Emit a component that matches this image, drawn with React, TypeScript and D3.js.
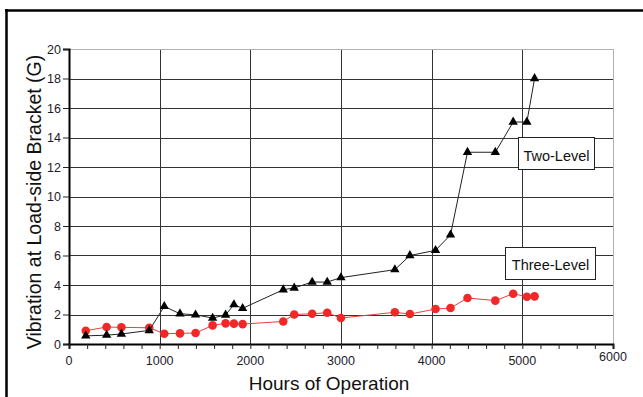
import React, { useEffect, useRef } from 'react';
import * as d3 from 'd3';

// hours of operation at each measurement
const hours = [185, 415, 578, 885, 1051, 1224, 1396, 1584, 1727, 1819, 1915, 2363, 2484, 2682, 2848, 2999,
    3594, 3760, 4043, 4208, 4395, 4702, 4899, 5050, 5135];

const twoLevel = [0.55, 0.6, 0.68, 0.92, 2.55, 2.05, 1.98, 1.76, 1.97, 2.67, 2.42, 3.68, 3.8, 4.2, 4.2, 4.5,
    5.04, 6.0, 6.35, 7.4, 13.0, 13.0, 15.05, 15.05, 18.0];

const threeLevel = [0.9, 1.15, 1.13, 1.1, 0.7, 0.72, 0.75, 1.26, 1.4, 1.38, 1.35, 1.53, 2.0, 2.05, 2.12, 1.76,
    2.15, 2.03, 2.37, 2.44, 3.12, 2.94, 3.41, 3.2, 3.23];

const xTicks = [0, 1000, 2000, 3000, 4000, 5000, 6000];
const yTicks = [0, 2, 4, 6, 8, 10, 12, 14, 16, 18, 20];

const WIDTH = 643;
const HEIGHT = 397;
const FONT = 'Arial, "Liberation Sans", sans-serif';

const App: React.FC = () => {
    const svgRef = useRef<SVGSVGElement | null>(null);

    useEffect(() => {
        document.body.style.margin = '0';
        if (!svgRef.current) return;

        const svg = d3.select(svgRef.current);
        svg.selectAll('*').remove();

        const margin = { top: 49, left: 69, right: 30, bottom: 53 };

        const x = d3.scaleLinear()
            .domain([0, 6000])
            .range([margin.left, WIDTH - margin.right]);

        const y = d3.scaleLinear()
            .domain([0, 20])
            .range([HEIGHT - margin.bottom, margin.top]);

        // outer frame (only top and left show)
        svg.append('line')
            .attr('x1', 5).attr('x2', WIDTH)
            .attr('y1', 10.5).attr('y2', 10.5)
            .attr('stroke', 'black').attr('stroke-width', 2.5);
        svg.append('line')
            .attr('x1', 6.5).attr('x2', 6.5)
            .attr('y1', 9).attr('y2', HEIGHT)
            .attr('stroke', 'black').attr('stroke-width', 2.5);

        const grid = svg.append('g');

        // horizontal grid
        grid.selectAll('line.h')
            .data(yTicks.filter(d => d > 0 && d < 20))
            .enter().append('line')
            .attr('x1', x(0)).attr('x2', x(6000))
            .attr('y1', d => Math.round(y(d)) + 0.5)
            .attr('y2', d => Math.round(y(d)) + 0.5)
            .attr('stroke', '#333');

        // vertical grid
        grid.selectAll('line.v')
            .data(xTicks.filter(d => d > 0 && d < 6000))
            .enter().append('line')
            .attr('x1', d => Math.round(x(d)) + 0.5)
            .attr('x2', d => Math.round(x(d)) + 0.5)
            .attr('y1', y(20)).attr('y2', y(0))
            .attr('stroke', '#333');

        // plot border top / right (light grey)
        grid.append('line')
            .attr('x1', x(0)).attr('x2', x(6000))
            .attr('y1', Math.round(y(20)) + 0.5).attr('y2', Math.round(y(20)) + 0.5)
            .attr('stroke', '#b0b0b0');
        grid.append('line')
            .attr('x1', Math.round(x(6000)) + 0.5).attr('x2', Math.round(x(6000)) + 0.5)
            .attr('y1', y(20)).attr('y2', y(0))
            .attr('stroke', '#b0b0b0');

        // y axis
        const yAxis = d3.axisLeft(y).tickValues(yTicks).tickSize(6).tickPadding(2);
        const gy = svg.append('g')
            .attr('transform', `translate(${x(0)},0)`)
            .call(yAxis);
        gy.select('.domain').attr('stroke', 'black').attr('stroke-width', 2);
        gy.selectAll('.tick line').attr('stroke', '#222');
        gy.selectAll('.tick text')
            .attr('font-family', FONT).attr('font-size', 12.5).attr('fill', '#1c1c2c');

        // x axis with minor ticks
        const minor = d3.range(0, 6001, 200);
        const gxMinor = svg.append('g')
            .attr('transform', `translate(0,${y(0)})`)
            .call(d3.axisBottom(x).tickValues(minor).tickSize(5).tickFormat(() => ''));
        gxMinor.select('.domain').attr('stroke', 'black').attr('stroke-width', 2);
        gxMinor.selectAll('.tick line').attr('stroke', '#222');

        svg.append('g')
            .selectAll('text')
            .data(xTicks)
            .enter().append('text')
            .attr('x', d => x(d))
            .attr('y', d => d === 6000 ? 361 : 364.5)
            .attr('text-anchor', 'middle')
            .attr('font-family', FONT).attr('font-size', 12.5).attr('fill', '#1c1c2c')
            .text(d => d);

        // axis titles
        svg.append('text')
            .attr('x', 329).attr('y', 390)
            .attr('text-anchor', 'middle')
            .attr('font-family', FONT).attr('font-size', 19).attr('fill', '#111')
            .text('Hours of Operation');

        svg.append('text')
            .attr('transform', 'translate(41,202) rotate(-90)')
            .attr('text-anchor', 'middle')
            .attr('font-family', FONT).attr('font-size', 19.5).attr('fill', '#111')
            .text('Vibration at Load-side Bracket (G)');

        // series
        const line = d3.line<[number, number]>()
            .x(d => x(d[0]))
            .y(d => y(d[1]));

        const threeData: [number, number][] = hours.map((h, i) => [h, threeLevel[i]]);
        const twoData: [number, number][] = hours.map((h, i) => [h, twoLevel[i]]);

        svg.append('path')
            .datum(threeData)
            .attr('d', line)
            .attr('fill', 'none')
            .attr('stroke', '#f03c3c')
            .attr('stroke-width', 1);

        svg.append('g')
            .selectAll('circle')
            .data(threeData)
            .enter().append('circle')
            .attr('cx', d => x(d[0]))
            .attr('cy', d => y(d[1]))
            .attr('r', 4.3)
            .attr('fill', '#f02828');

        svg.append('path')
            .datum(twoData)
            .attr('d', line)
            .attr('fill', 'none')
            .attr('stroke', '#222')
            .attr('stroke-width', 1);

        const tri = d3.symbol().type(d3.symbolTriangle).size(38);
        svg.append('g')
            .selectAll('path')
            .data(twoData)
            .enter().append('path')
            .attr('d', tri)
            .attr('transform', d => `translate(${x(d[0])},${y(d[1])})`)
            .attr('fill', 'black');

        // labels
        const labels = [
            { text: 'Two-Level', x0: 518, y0: 137, w: 76, h: 32, base: 160.5 },
            { text: 'Three-Level', x0: 505, y0: 247, w: 90, h: 32, base: 269.5 },
        ];
        const lg = svg.append('g');
        labels.forEach(l => {
            lg.append('rect')
                .attr('x', l.x0 + 0.5).attr('y', l.y0 + 0.5)
                .attr('width', l.w).attr('height', l.h)
                .attr('fill', 'white')
                .attr('stroke', '#222');
            lg.append('text')
                .attr('x', l.x0 + l.w / 2 + 0.5).attr('y', l.base)
                .attr('text-anchor', 'middle')
                .attr('font-family', FONT).attr('font-size', 14.5).attr('fill', '#111')
                .text(l.text);
        });
    }, []);

    return (
        <svg ref={svgRef} width={WIDTH} height={HEIGHT} style={{ display: 'block', background: 'white' }}></svg>
    );
};

export default App;
